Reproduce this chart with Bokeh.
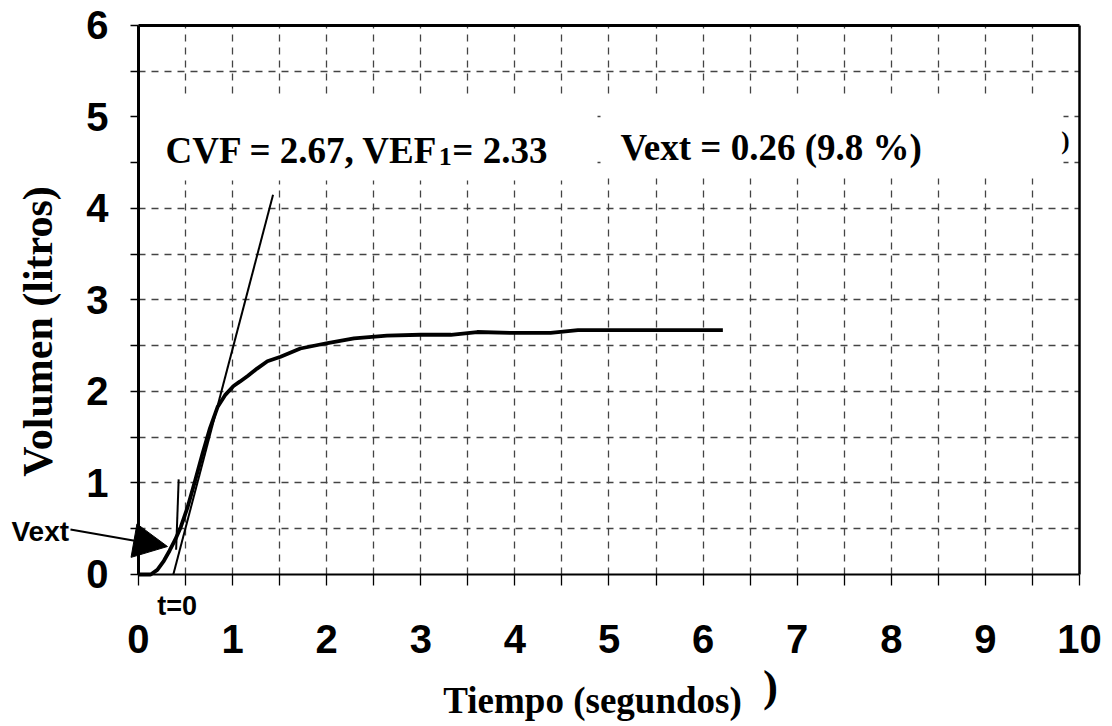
import math
from bokeh.plotting import figure
from bokeh.models import (Arrow, NormalHead, Label, BoxAnnotation, FixedTicker, Range1d,
                          LinearAxis, Grid)
from bokeh.embed import file_html
from bokeh.resources import INLINE

# ---- data ----
time_s = [0, 0.13, 0.20, 0.27, 0.33, 0.39, 0.45, 0.52, 0.60, 0.68, 0.76, 0.84, 0.92,
          1.01, 1.08, 1.16, 1.26, 1.37, 1.51, 1.72, 2.01, 2.29, 2.64, 3.0, 3.32, 3.6,
          3.99, 4.38, 4.67, 5.0, 5.5, 6.21]
volume_l = [0, 0, 0.05, 0.15, 0.26, 0.38, 0.52, 0.73, 1.02, 1.32, 1.60, 1.83, 1.96,
            2.06, 2.11, 2.17, 2.25, 2.33, 2.38, 2.47, 2.53, 2.58, 2.61, 2.62, 2.62, 2.65,
            2.64, 2.64, 2.67, 2.67, 2.67, 2.67]
tangent_t = [0.37, 1.43]
tangent_v = [0.0, 4.15]
vext_t = [0.40, 0.427]
vext_v = [0.27, 1.04]

x_ticks = [0, 1, 2, 3, 4, 5, 6, 7, 8, 9, 10]
x_minor = [0.5, 1.5, 2.5, 3.5, 4.5, 5.5, 6.5, 7.5, 8.5, 9.5]
y_ticks = [0, 1, 2, 3, 4, 5, 6]
y_minor = [0.5, 1.5, 2.5, 3.5, 4.5, 5.5]
x_lim = (0, 10)
y_lim = (0, 6)

SANS = "Liberation Sans"
SERIF = "Liberation Serif"

# the frame covers the whole canvas; the chart box is drawn with fixed-location axes
p = figure(width=1112, height=726,
           x_range=Range1d(-1.4665, 10.3507), y_range=Range1d(-1.6612, 6.2732),
           x_axis_location=None, y_axis_location=None, min_border=0,
           output_backend="svg", toolbar_location=None)
p.background_fill_color = "white"
p.border_fill_color = "white"
p.outline_line_color = None
p.center = []

# dashed grid limited to the chart box
gx_ticks = [t for t in sorted(x_ticks + x_minor) if x_lim[0] < t < x_lim[1]]
gy_ticks = [t for t in sorted(y_ticks + y_minor) if y_lim[0] < t < y_lim[1]]
grid_style = dict(grid_line_color="#444444", grid_line_dash="7 6", grid_line_width=1.3)
try:
    p.add_layout(Grid(dimension=0, ticker=FixedTicker(ticks=gx_ticks), bounds=x_lim,
                      cross_bounds=y_lim, **grid_style))
    p.add_layout(Grid(dimension=1, ticker=FixedTicker(ticks=gy_ticks), bounds=y_lim,
                      cross_bounds=x_lim, **grid_style))
except Exception:
    p.segment(x0=gx_ticks, x1=gx_ticks, y0=[y_lim[0]] * len(gx_ticks), y1=[y_lim[1]] * len(gx_ticks),
              line_color="#444444", line_dash="7 6", line_width=1.3, level="underlay")
    p.segment(x0=[x_lim[0]] * len(gy_ticks), x1=[x_lim[1]] * len(gy_ticks), y0=gy_ticks, y1=gy_ticks,
              line_color="#444444", line_dash="7 6", line_width=1.3, level="underlay")

# white boxes behind annotations
p.add_layout(BoxAnnotation(left=0.01, right=4.878, bottom=4.306, top=5.224,
                           fill_color="white", fill_alpha=1, line_alpha=0, level="underlay"))
p.add_layout(BoxAnnotation(left=4.92, right=9.83, bottom=4.328, top=5.224,
                           fill_color="white", fill_alpha=1, line_alpha=0, level="underlay"))

def style_axis(ax, tick_out, standoff, width):
    ax.axis_line_color = "black"
    ax.axis_line_width = width
    ax.major_tick_line_color = "black"
    ax.minor_tick_line_color = "black"
    ax.major_tick_line_width = 1.3
    ax.minor_tick_line_width = 1.3
    ax.major_tick_in = 0
    ax.minor_tick_in = 0
    ax.major_tick_out = tick_out
    ax.minor_tick_out = tick_out
    ax.major_label_standoff = standoff
    ax.major_label_text_font = SANS
    ax.major_label_text_font_style = "bold"
    ax.major_label_text_font_size = "40px"
    ax.major_label_text_color = "black"

xaxis = LinearAxis(fixed_location=y_lim[0], bounds=x_lim,
                   ticker=FixedTicker(ticks=x_ticks, minor_ticks=x_minor))
style_axis(xaxis, 11, 40, 2)
p.add_layout(xaxis, "below")

yaxis = LinearAxis(fixed_location=x_lim[0], bounds=y_lim,
                   ticker=FixedTicker(ticks=y_ticks, minor_ticks=y_minor))
style_axis(yaxis, 8, 22, 3)
p.add_layout(yaxis, "left")

top_border = LinearAxis(fixed_location=y_lim[1], bounds=x_lim, ticker=FixedTicker(ticks=[]),
                        axis_line_color="black", axis_line_width=3)
p.add_layout(top_border, "above")
right_border = LinearAxis(fixed_location=x_lim[1], bounds=y_lim, ticker=FixedTicker(ticks=[]),
                          axis_line_color="black", axis_line_width=2.5)
p.add_layout(right_border, "right")

# curves
p.line(tangent_t, tangent_v, line_color="black", line_width=2)
p.line(vext_t, vext_v, line_color="black", line_width=2)
p.line(time_s, volume_l, line_color="black", line_width=3.8, line_join="round")

# arrow
p.add_layout(Arrow(end=NormalHead(size=34, fill_color="black", line_color="black"),
                   x_start=-0.723, y_start=0.492, x_end=0.308, y_end=0.306,
                   line_color="black", line_width=2))

def lab(x, y, text, font, size, align="left", baseline="alphabetic", angle=0):
    p.add_layout(Label(x=x, y=y, text=text, text_font=font, text_font_style="bold",
                       text_font_size=size, text_align=align, text_baseline=baseline,
                       text_color="black", angle=angle))

lab(0.287, 4.634, "CVF = 2.67, VEF", SERIF, "37px")
lab(3.19, 4.57, "1", SERIF, "26px")
lab(3.335, 4.634, "= 2.33", SERIF, "37px")
lab(5.122, 4.667, "Vext = 0.26 (9.8 %)", SERIF, "37px")
lab(9.85, 4.74, ")", SERIF, "25px", align="center", baseline="middle")

lab(-1.35, 0.47, "Vext", SANS, "28px")
lab(0.2, -0.345, "t=0", SANS, "27px")

lab(-1.063, 2.656, "Volumen (litros)", SERIF, "42px", align="center", baseline="middle", angle=math.pi / 2)
lab(4.825, -1.377, "Tiempo (segundos)", SERIF, "37px", align="center")
lab(6.716, -1.224, ")", SERIF, "45px", align="center", baseline="middle")

open("out.html", "w").write(file_html(p, INLINE))
